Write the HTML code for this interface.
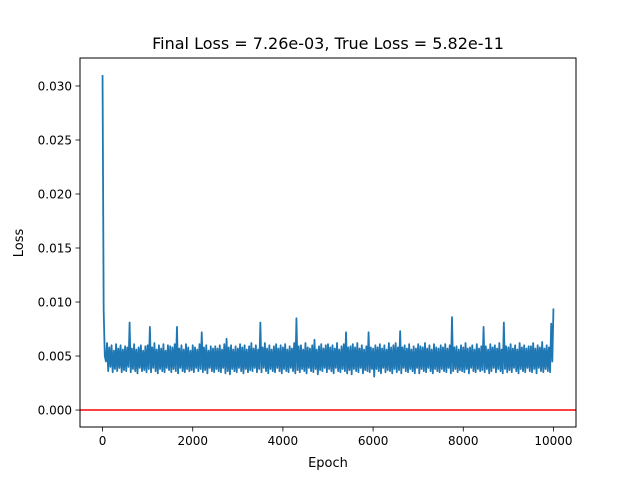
<!DOCTYPE html>
<html><head><meta charset="utf-8"><style>
body{margin:0;background:#fff;}
svg text{font-family:"DejaVu Sans","Liberation Sans",sans-serif;fill:#000;}
</style></head><body>
<svg id="chart" width="640" height="480" viewBox="0 0 640 480" xmlns="http://www.w3.org/2000/svg">
<rect width="640" height="480" fill="#fff"/>
<text x="328" y="49" font-size="16" text-anchor="middle">Final Loss = 7.26e-03, True Loss = 5.82e-11</text>
<g id="xticks"></g>
<g id="yticks"></g>
<g id="plot"></g>
<rect x="80" y="58" width="496" height="369" fill="none" stroke="#000" stroke-width="1"/>
<text x="328" y="467" font-size="13" text-anchor="middle">Epoch</text>
<text transform="translate(23,243) rotate(-90)" font-size="13" text-anchor="middle">Loss</text>
</svg>
<script>
const epochStep = 25;
const lossValues = [
0.0310,0.0092,0.0050,0.0045,0.0062,0.0036,0.0058,0.0040,0.0060,0.0035,0.0055,0.0038,0.0061,0.0036,0.0057,0.0039,0.0060,0.0035,0.0056,0.0037,
0.0059,0.0036,0.0058,0.0040,0.0081,0.0035,0.0057,0.0038,0.0061,0.0036,0.0056,0.0034,0.0058,0.0039,0.0060,0.0036,0.0055,0.0037,0.0059,0.0035,
0.0060,0.0038,0.0077,0.0035,0.0058,0.0039,0.0062,0.0036,0.0056,0.0034,0.0060,0.0038,0.0057,0.0036,0.0061,0.0035,0.0055,0.0039,0.0060,0.0037,
0.0059,0.0035,0.0058,0.0038,0.0061,0.0036,0.0077,0.0034,0.0057,0.0039,0.0060,0.0036,0.0056,0.0035,0.0061,0.0038,0.0058,0.0036,0.0055,0.0037,
0.0060,0.0035,0.0058,0.0039,0.0056,0.0036,0.0061,0.0038,0.0072,0.0035,0.0058,0.0037,0.0060,0.0034,0.0055,0.0039,0.0059,0.0036,0.0057,0.0035,
0.0059,0.0038,0.0057,0.0036,0.0060,0.0035,0.0056,0.0039,0.0061,0.0034,0.0066,0.0036,0.0058,0.0033,0.0060,0.0038,0.0056,0.0036,0.0059,0.0035,
0.0057,0.0039,0.0061,0.0036,0.0058,0.0034,0.0060,0.0038,0.0056,0.0035,0.0059,0.0037,0.0062,0.0036,0.0057,0.0039,0.0060,0.0035,0.0056,0.0038,
0.0081,0.0035,0.0058,0.0039,0.0062,0.0036,0.0057,0.0034,0.0060,0.0038,0.0056,0.0036,0.0059,0.0035,0.0061,0.0039,0.0057,0.0036,0.0060,0.0034,
0.0058,0.0038,0.0061,0.0036,0.0056,0.0035,0.0059,0.0039,0.0057,0.0036,0.0062,0.0034,0.0085,0.0037,0.0059,0.0035,0.0060,0.0038,0.0056,0.0036,
0.0062,0.0034,0.0058,0.0039,0.0057,0.0036,0.0060,0.0035,0.0065,0.0038,0.0056,0.0033,0.0059,0.0037,0.0061,0.0036,0.0057,0.0039,0.0060,0.0035,
0.0061,0.0038,0.0058,0.0036,0.0060,0.0034,0.0057,0.0039,0.0062,0.0036,0.0056,0.0035,0.0059,0.0038,0.0061,0.0036,0.0072,0.0034,0.0058,0.0037,
0.0059,0.0033,0.0061,0.0038,0.0058,0.0036,0.0062,0.0035,0.0057,0.0039,0.0060,0.0034,0.0056,0.0037,0.0059,0.0036,0.0072,0.0035,0.0058,0.0038,
0.0057,0.0031,0.0060,0.0038,0.0058,0.0036,0.0061,0.0034,0.0057,0.0039,0.0060,0.0035,0.0056,0.0037,0.0062,0.0036,0.0058,0.0034,0.0060,0.0038,
0.0062,0.0035,0.0058,0.0037,0.0073,0.0034,0.0058,0.0039,0.0060,0.0036,0.0057,0.0035,0.0061,0.0038,0.0056,0.0036,0.0059,0.0034,0.0057,0.0039,
0.0061,0.0034,0.0059,0.0038,0.0058,0.0036,0.0062,0.0035,0.0057,0.0039,0.0060,0.0036,0.0056,0.0034,0.0061,0.0038,0.0058,0.0036,0.0057,0.0035,
0.0060,0.0038,0.0058,0.0036,0.0061,0.0035,0.0057,0.0039,0.0060,0.0034,0.0086,0.0036,0.0058,0.0038,0.0059,0.0035,0.0056,0.0037,0.0060,0.0036,
0.0058,0.0035,0.0062,0.0038,0.0057,0.0034,0.0058,0.0039,0.0060,0.0036,0.0056,0.0035,0.0061,0.0038,0.0057,0.0036,0.0059,0.0037,0.0077,0.0035,
0.0059,0.0038,0.0056,0.0034,0.0061,0.0036,0.0058,0.0039,0.0060,0.0035,0.0057,0.0038,0.0062,0.0036,0.0056,0.0034,0.0081,0.0038,0.0059,0.0035,
0.0058,0.0037,0.0061,0.0035,0.0057,0.0039,0.0060,0.0036,0.0056,0.0034,0.0062,0.0038,0.0058,0.0036,0.0060,0.0035,0.0057,0.0039,0.0059,0.0036,
0.0059,0.0035,0.0062,0.0038,0.0057,0.0034,0.0060,0.0039,0.0058,0.0036,0.0063,0.0035,0.0057,0.0038,0.0060,0.0036,0.0058,0.0035,0.0080,0.0045,
0.0094];
const trueLoss = 0;
const xTickValues = [0,2000,4000,6000,8000,10000];
const xTickLabels = ["0","2000","4000","6000","8000","10000"];
const yTickValues = [0,0.005,0.010,0.015,0.020,0.025,0.030];
const yTickLabels = ["0.000","0.005","0.010","0.015","0.020","0.025","0.030"];

const NS = "http://www.w3.org/2000/svg";
const X0=80, X1=576, Y0=58, Y1=427;
const xMin=-500, xMax=10500, yMin=-0.00157, yMax=0.03259;
function sx(v){return X0+(v-xMin)/(xMax-xMin)*(X1-X0);}
function sy(v){return Y1-(v-yMin)/(yMax-yMin)*(Y1-Y0);}
function mk(tag,attrs,parent){const e=document.createElementNS(NS,tag);for(const k in attrs)e.setAttribute(k,attrs[k]);parent.appendChild(e);return e;}

const xg=document.getElementById('xticks');
xTickValues.forEach((v,i)=>{
  const t=mk('line',{x1:sx(v),x2:sx(v),y1:Y1,y2:Y1+4.5,stroke:'#000','stroke-width':0.8},xg);
  
  
  const l=mk('text',{x:sx(v),y:Y1+18,'font-size':12,'text-anchor':'middle'},xg);
  l.textContent=xTickLabels[i];
  
  
});
const yg=document.getElementById('yticks');
yTickValues.forEach((v,i)=>{
  const t=mk('line',{x1:X0-4.5,x2:X0,y1:sy(v),y2:sy(v),stroke:'#000','stroke-width':0.8},yg);
  
  
  const l=mk('text',{x:X0-8,y:sy(v)+4.5,'font-size':12,'text-anchor':'end'},yg);
  l.textContent=yTickLabels[i];
  
  
});
const pg=document.getElementById('plot');
const pts=lossValues.map((v,i)=>sx(i*epochStep).toFixed(2)+','+sy(v).toFixed(2)).join(' ');
const line=mk('polyline',{points:pts,fill:'none',stroke:'#1f77b4','stroke-width':1.8,'stroke-linejoin':'round'},pg);


const tl=mk('line',{x1:X0,x2:X1,y1:sy(trueLoss),y2:sy(trueLoss),stroke:'#ff0000','stroke-width':1.5},pg);


</script>
</body></html>
